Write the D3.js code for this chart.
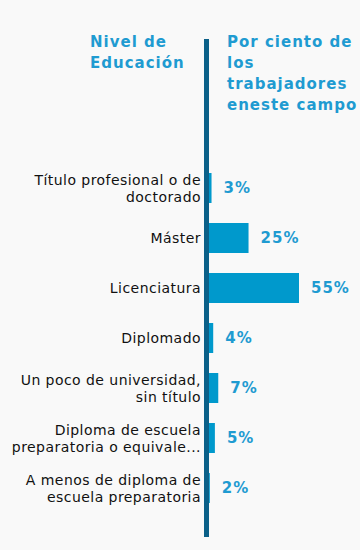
<!DOCTYPE html>
<html><head><meta charset="utf-8">
<script src="https://cdnjs.cloudflare.com/ajax/libs/d3/7.8.5/d3.min.js"></script>
<style>
html,body{margin:0;padding:0;background:#f9f9f9;}
svg{display:block;}
</style></head>
<body><svg id="chart" width="360" height="550"></svg>
<script>
const categories = [
  ["Título profesional o de", "doctorado"],
  ["Máster"],
  ["Licenciatura"],
  ["Diplomado"],
  ["Un poco de universidad,", "sin título"],
  ["Diploma de escuela", "preparatoria o equivale..."],
  ["A menos de diploma de", "escuela preparatoria"]
];
const values = [3, 25, 55, 4, 7, 5, 2];
const valueLabels = ["3%", "25%", "55%", "4%", "7%", "5%", "2%"];
const leftHeader = ["Nivel de", "Educación"];
const rightHeader = ["Por ciento de", "los", "trabajadores", "eneste campo"];

const svg = d3.select("#chart");
const font = "'DejaVu Sans', Verdana, sans-serif";
const axisX = 209;
const y = d3.scaleBand().domain(d3.range(categories.length))
  .range([163, 513]).paddingInner(0.4).paddingOuter(0.2);
const x = d3.scaleLinear().domain([1.5, 55]).range([0, 90]).clamp(true);

svg.append("rect").attr("width",360).attr("height",550).attr("fill","#f9f9f9");

// headers
const hl = svg.append("text")
  .attr("font-family",font).attr("font-weight","bold").attr("font-size",15)
  .attr("letter-spacing",1).attr("fill","#1f9bd1");
leftHeader.forEach((t,i)=>hl.append("tspan").attr("x",90).attr("y",47+i*21).text(t));
const hr = svg.append("text")
  .attr("font-family",font).attr("font-weight","bold").attr("font-size",15)
  .attr("letter-spacing",1).attr("fill","#1f9bd1");
rightHeader.forEach((t,i)=>hr.append("tspan").attr("x",227).attr("y",47+i*21).text(t));

// bars
svg.selectAll("rect.bar").data(values).enter().append("rect")
  .attr("class","bar")
  .attr("x",axisX)
  .attr("y",(d,i)=>y(i))
  .attr("width",d=>x(d))
  .attr("height",y.bandwidth())
  .attr("fill","#0099cc");

// value labels
svg.selectAll("text.val").data(values).enter().append("text")
  .attr("class","val")
  .attr("x",d=>axisX + x(d) + 12)
  .attr("y",(d,i)=>y(i)+y.bandwidth()/2+5)
  .attr("font-family",font).attr("font-weight","bold").attr("font-size",15)
  .attr("letter-spacing",1).attr("fill","#1f9bd1")
  .text((d,i)=>valueLabels[i]);

// category labels
categories.forEach((lines,i)=>{
  const cy = y(i)+y.bandwidth()/2;
  const t = svg.append("text").attr("text-anchor","end")
    .attr("font-family",font).attr("font-size",14).attr("letter-spacing",0.45)
    .attr("fill","#111");
  const n = lines.length;
  lines.forEach((l,j)=>{
    const by = cy + 5 + (j - (n-1)/2)*17;
    t.append("tspan").attr("x",201).attr("y",by).text(l);
  });
});

// axis line
svg.append("rect").attr("x",204).attr("y",39).attr("width",5).attr("height",498)
  .attr("fill","#0b6088");
</script>
</body></html>
